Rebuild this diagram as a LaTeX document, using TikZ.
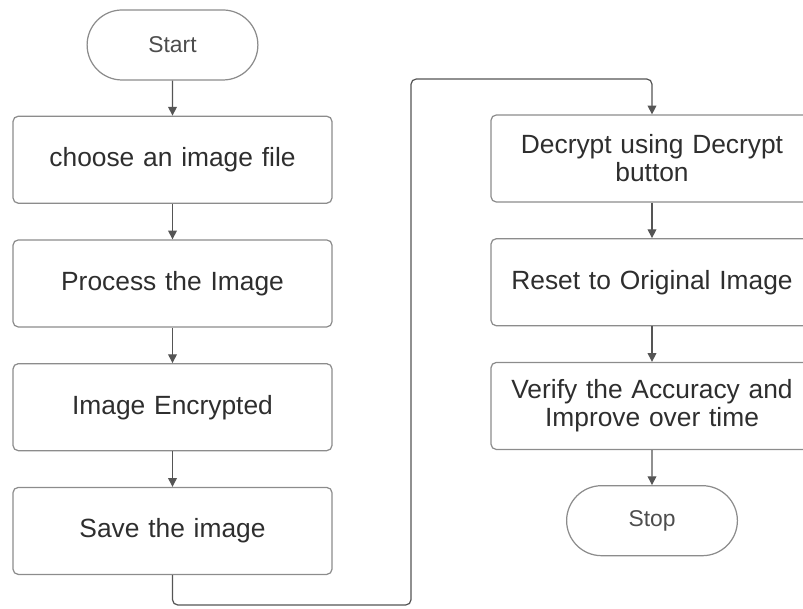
\documentclass[tikz,border=0pt]{standalone}
\usepackage{fontspec}
\setmainfont{Liberation Sans}
\usepackage{xcolor}
\usepackage{tikz}
\usetikzlibrary{arrows.meta,positioning,shapes.misc}
\definecolor{body}{HTML}{2E2E2E}
\definecolor{edge}{HTML}{8C8C8C}
\definecolor{link}{HTML}{555555}

\tikzset{
  terminal/.style={rounded rectangle, draw=edge, line width=0.7pt, minimum width=3.65cm,
    minimum height=1.4cm, text=body!85, font=\fontsize{13}{15}\selectfont},
  procbox/.style={rectangle, rounded corners=3pt, draw=edge, line width=0.7pt,
    minimum width=6.38cm, minimum height=1.74cm, text width=6cm, align=center,
    text=body, font=\fontsize{15}{16}\selectfont},
  flow/.style={draw=link, line width=0.7pt, -{Triangle[length=5pt,width=5pt]}},
}

\begin{document}
\begin{tikzpicture}
  \useasboundingbox (0,0) rectangle (16.06,12.16);

  % left column
  \node[terminal] (start) at (3.45,11.26) {Start};
  \node[procbox, below=0.7cm of start] (choose) {choose an image file};
  \node[procbox, below=0.71cm of choose] (process) {Process the Image};
  \node[procbox, below=0.71cm of process] (encrypt) {Image Encrypted};
  \node[procbox, below=0.71cm of encrypt] (save) {Save the image};

  % right column
  \node[procbox, minimum width=6.44cm] (decrypt) at (13.04,8.99) {Decrypt using Decrypt\\button};
  \node[procbox, minimum width=6.44cm, below=0.71cm of decrypt] (reset) {Reset to Original Image};
  \node[procbox, minimum width=6.44cm, below=0.71cm of reset] (verify) {Verify the Accuracy and\\Improve over time};
  \node[terminal, below=0.7cm of verify] (stop) {Stop};

  \coordinate (lowturn) at (8.22,0.06);
  \coordinate (highturn) at (8.22,10.58);

  \draw[flow] (start) -- (choose);
  \draw[flow] (choose) -- (process);
  \draw[flow] (process) -- (encrypt);
  \draw[flow] (encrypt) -- (save);
  \draw[flow, rounded corners=3pt] (save.south) |- (lowturn) -- (highturn) -| (decrypt.north);
  \draw[flow] (decrypt) -- (reset);
  \draw[flow] (reset) -- (verify);
  \draw[flow] (verify) -- (stop);
\end{tikzpicture}
\end{document}
